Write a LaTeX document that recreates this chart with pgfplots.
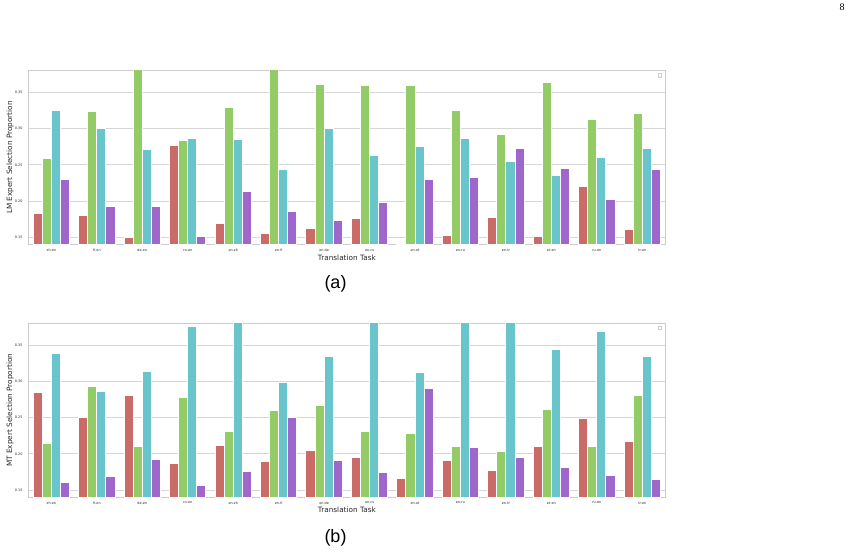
\documentclass[border=0pt]{standalone}
\usepackage{fontspec}
\setmainfont{DejaVu Sans}
\newfontfamily\capfont{Liberation Sans}
\newfontfamily\numfont{Liberation Serif}
\usepackage{pgfplots}
\usepackage{pgfplotstable}
\pgfplotsset{compat=1.18}

\definecolor{cR}{HTML}{CB6B67}
\definecolor{cG}{HTML}{93CB67}
\definecolor{cC}{HTML}{67C5CB}
\definecolor{cP}{HTML}{9F67CB}
\definecolor{txt}{HTML}{262626}
\definecolor{gridc}{HTML}{D6D6D6}
\definecolor{framec}{HTML}{CCCCCC}

\pgfplotstableread{
x r g c p
0 0.1827 0.2595 0.3257 0.2296
1 0.1808 0.3244 0.2999 0.1923
2 0.1505 0.4000 0.2719 0.1928
3 0.2770 0.2834 0.2862 0.1514
4 0.1689 0.3299 0.2857 0.2130
5 0.1560 0.4000 0.2438 0.1859
6 0.1629 0.3611 0.2999 0.1735
7 0.1758 0.3598 0.2632 0.1983
8 0.1300 0.3602 0.2751 0.2296
9 0.1528 0.3253 0.2862 0.2328
10 0.1780 0.2926 0.2549 0.2724
11 0.1518 0.3639 0.2360 0.2457
12 0.2204 0.3133 0.2609 0.2029
13 0.1606 0.3207 0.2724 0.2434
}\tableA

\pgfplotstableread{
x r g c p
0 0.2848 0.2144 0.3381 0.1601
1 0.2503 0.2926 0.2857 0.1689
2 0.2811 0.2098 0.3138 0.1928
3 0.1873 0.2779 0.3763 0.1564
4 0.2116 0.2314 0.4000 0.1753
5 0.1896 0.2599 0.2981 0.2503
6 0.2052 0.2673 0.3349 0.1905
7 0.1955 0.2314 0.4000 0.1748
8 0.1656 0.2287 0.3119 0.2908
9 0.1914 0.2107 0.4000 0.2084
10 0.1771 0.2029 0.4000 0.1955
11 0.2107 0.2618 0.3437 0.1817
12 0.2489 0.2098 0.3690 0.1698
13 0.2176 0.2806 0.3345 0.1643
}\tableB

\pgfplotsset{
  myaxis/.style={
    scale only axis,
    width=636.3pt, height=173.5pt,
    anchor=south west,
    xmin=-0.5, xmax=13.5,
    ymin=0.1405, ymax=0.38,
    xtick={0,...,13},
    xticklabels={zh-en,fi-en,de-en,cs-en,en-zh,en-fi,en-de,en-cs,en-et,en-ru,en-tr,et-en,ru-en,tr-en},
    ytick={0.15,0.2,0.25,0.3,0.35},
    ymajorgrids,
    grid style={gridc, line width=1pt},
    axis line style={framec, line width=0.9pt},
    major tick length=0pt,
    tick label style={font=\fontsize{3.4}{4}\selectfont, text=txt},
    yticklabel style={anchor=east, inner sep=0pt, xshift=-6pt,
      /pgf/number format/.cd, fixed, fixed zerofill, precision=2, assume math mode=true},
    xticklabel style={anchor=north, inner sep=0pt, yshift=-4.6pt},
    label style={font=\fontsize{7.3}{8.5}\selectfont, text=txt},
    xlabel={Translation Task},
    xlabel style={at={(axis description cs:0.5,-0.075)}, anchor=center},
    ylabel style={at={(axis description cs:-0.0294,0.5)}, anchor=center},
    every axis plot/.append style={ybar, bar width=0.2, draw=white, line width=1pt},
  },
  br/.style={fill=cR, bar shift=-0.3},
  bg/.style={fill=cG, bar shift=-0.1},
  bc/.style={fill=cC, bar shift=0.1},
  bp/.style={fill=cP, bar shift=0.3},
}

\begin{document}
\begin{tikzpicture}
\useasboundingbox (0pt,0pt) rectangle (856pt,555pt);

\begin{axis}[myaxis, at={(28.7pt,310.7pt)}, ylabel={LM Expert Selection Proportion}]
\addplot[br] table[x=x, y=r] {\tableA};
\addplot[bg] table[x=x, y=g] {\tableA};
\addplot[bc] table[x=x, y=c] {\tableA};
\addplot[bp] table[x=x, y=p] {\tableA};
\node[draw=framec, line width=0.4pt, minimum size=3.5pt, inner sep=0pt, fill=white] at (rel axis cs:0.992,0.976) {};
\end{axis}

\begin{axis}[myaxis, at={(28.7pt,58pt)}, ylabel={MT Expert Selection Proportion}]
\addplot[br] table[x=x, y=r] {\tableB};
\addplot[bg] table[x=x, y=g] {\tableB};
\addplot[bc] table[x=x, y=c] {\tableB};
\addplot[bp] table[x=x, y=p] {\tableB};
\node[draw=framec, line width=0.4pt, minimum size=3.5pt, inner sep=0pt, fill=white] at (rel axis cs:0.992,0.976) {};
\end{axis}

\node[font=\capfont\fontsize{18}{20}\selectfont, text=black] at (335.5pt,271pt) {(a)};
\node[font=\capfont\fontsize{18}{20}\selectfont, text=black] at (335.5pt,17pt) {(b)};
\node[font=\numfont\fontsize{10}{12}\selectfont, text=black] at (842pt,547.5pt) {8};
\end{tikzpicture}
\end{document}
